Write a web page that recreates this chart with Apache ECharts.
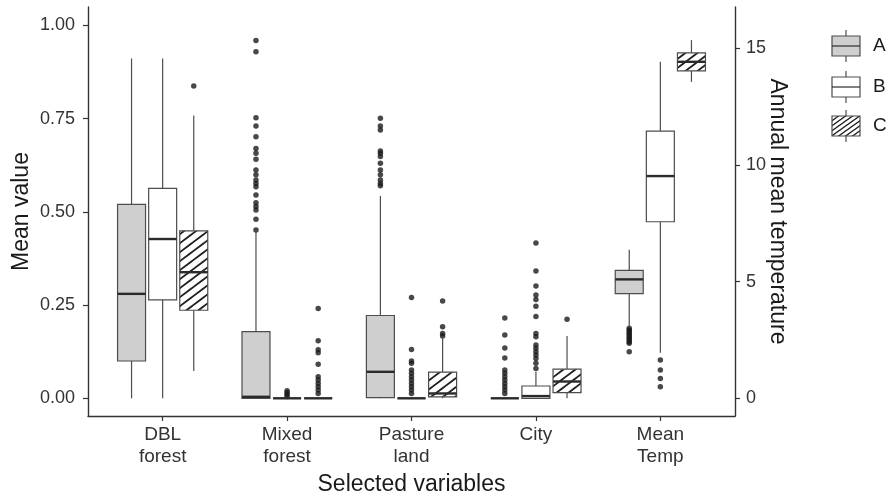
<!DOCTYPE html>
<html><head><meta charset="utf-8">
<script src="https://cdn.jsdelivr.net/npm/echarts@6/dist/echarts.min.js"></script>
<style>html,body{margin:0;padding:0;background:#fff}#c{width:891px;height:496px}</style>
</head><body><div id="c"></div>
<script>
// ---- data ----
const categories = ['DBL\nforest', 'Mixed\nforest', 'Pasture\nland', 'City', 'Mean\nTemp'];
const groups = ['A', 'B', 'C'];
const leftTicks = [0, 0.25, 0.5, 0.75, 1];
const rightTicks = [0, 5, 10, 15];
// [low whisker, q1, median, q3, high whisker] for DBL forest, Mixed forest, Pasture land, City (left axis)
const statsA = [[0, 0.100, 0.280, 0.520, 0.911], [0, 0, 0.004, 0.179, 0.447], [0, 0.002, 0.071, 0.222, 0.542], [0, 0, 0, 0, 0]];
const statsB = [[0, 0.264, 0.427, 0.563, 0.911], [0, 0, 0, 0, 0], [0, 0, 0, 0, 0], [0, 0, 0.006, 0.033, 0.071]];
const statsC = [[0.073, 0.236, 0.338, 0.449, 0.758], [0, 0, 0, 0, 0], [0, 0.004, 0.013, 0.070, 0.161], [0, 0.015, 0.045, 0.078, 0.167]];
// Mean Temp (right axis)
const tempA = [3.05, 4.49, 5.10, 5.49, 6.37];
const tempB = [1.95, 7.57, 9.53, 11.46, 14.43];
const tempC = [13.57, 14.04, 14.43, 14.81, 15.36];
// outliers per category (left axis)
const outA = [[], [0.959, 0.929, 0.752, 0.730, 0.701, 0.670, 0.657, 0.641, 0.612, 0.599, 0.585, 0.576, 0.567, 0.545, 0.524, 0.514, 0.505, 0.480, 0.451],
  [0.751, 0.730, 0.719, 0.663, 0.657, 0.648, 0.630, 0.612, 0.599, 0.585, 0.576, 0.570],
  [0.215, 0.170, 0.135, 0.108, 0.076, 0.067, 0.058, 0.049, 0.040, 0.031, 0.022, 0.013]];
const outB = [[], [0.020, 0.015, 0.010, 0.005],
  [0.270, 0.131, 0.100, 0.094, 0.076, 0.067, 0.058, 0.049, 0.040, 0.031, 0.022, 0.013],
  [0.416, 0.341, 0.301, 0.277, 0.265, 0.247, 0.219, 0.174, 0.165, 0.143, 0.134, 0.125, 0.116, 0.107, 0.094, 0.080]];
const outC = [[0.837], [0.241, 0.154, 0.130, 0.122, 0.091, 0.058, 0.049, 0.040, 0.031, 0.022, 0.013],
  [0.261, 0.192, 0.174, 0.167], [0.212]];
// Mean Temp outliers (right axis)
const tempOutA = [3.0, 2.93, 2.86, 2.79, 2.72, 2.64, 2.57, 2.50, 2.43, 2.36, 2.0];
const tempOutB = [1.64, 1.21, 0.85, 0.50];
const tempOutC = [];

// ---- styling helpers ----
function hatch(w, h, lw) {
  const c = document.createElement('canvas');
  c.width = w; c.height = h;
  const g = c.getContext('2d');
  g.fillStyle = '#fff'; g.fillRect(0, 0, w, h);
  g.strokeStyle = '#1e1e1e'; g.lineWidth = lw;
  g.beginPath();
  g.moveTo(-w, 2 * h); g.lineTo(2 * w, -h);
  g.moveTo(-w, h); g.lineTo(w, -h);
  g.moveTo(0, 2 * h); g.lineTo(2 * w, 0);
  g.stroke();
  return c;
}
const fills = ['#cfcfcf', '#ffffff', { image: hatch(12, 9, 1.8), repeat: 'repeat' }];
const legendFills = ['#cfcfcf', '#ffffff', { image: hatch(7, 5, 1.4), repeat: 'repeat' }];
const offsets = [-0.25, 0, 0.25];
const boxW = 0.225;
const lineCol = '#4d4d4d';

function renderBox(fill) {
  return function (params, api) {
    const x = api.value(0);
    const low = api.coord([x, api.value(1)]);
    const q1 = api.coord([x, api.value(2)]);
    const med = api.coord([x, api.value(3)]);
    const q3 = api.coord([x, api.value(4)]);
    const high = api.coord([x, api.value(5)]);
    const w = api.size([boxW, 0])[0];
    const cx = low[0], L = cx - w / 2;
    return {
      type: 'group', children: [
        { type: 'line', shape: { x1: cx, y1: high[1], x2: cx, y2: q3[1] }, style: { stroke: lineCol, lineWidth: 1.2 } },
        { type: 'line', shape: { x1: cx, y1: q1[1], x2: cx, y2: low[1] }, style: { stroke: lineCol, lineWidth: 1.2 } },
        { type: 'rect', shape: { x: L, y: q3[1], width: w, height: q1[1] - q3[1] }, style: { fill: fill, stroke: lineCol, lineWidth: 1.2 } },
        { type: 'line', shape: { x1: L, y1: med[1], x2: L + w, y2: med[1] }, style: { stroke: '#2b2b2b', lineWidth: 2.4 } }
      ]
    };
  };
}

const statsAll = [statsA, statsB, statsC];
const tempAll = [tempA, tempB, tempC];
const outAll = [outA, outB, outC];
const tempOutAll = [tempOutA, tempOutB, tempOutC];

const series = [];
groups.forEach((g, gi) => {
  const off = offsets[gi];
  const outPts = [];
  outAll[gi].forEach((arr, ci) => arr.forEach(v => outPts.push([ci + 1 + off, v])));
  series.push({ type: 'scatter', name: g + ' out', yAxisIndex: 0, symbolSize: 5.5, itemStyle: { color: '#1a1a1a' }, data: outPts, z: 2 });
  series.push({ type: 'scatter', name: g + ' tout', yAxisIndex: 1, symbolSize: 5.5, itemStyle: { color: '#1a1a1a' },
    data: tempOutAll[gi].map(v => [5 + off, v]), z: 2 });
  series.push({ type: 'custom', name: g, yAxisIndex: 0, renderItem: renderBox(fills[gi]),
    encode: { x: 0, y: [1, 2, 3, 4, 5] },
    data: statsAll[gi].map((s, ci) => [ci + 1 + off].concat(s)), z: 3 });
  series.push({ type: 'custom', name: g + ' temp', yAxisIndex: 1, renderItem: renderBox(fills[gi]),
    encode: { x: 0, y: [1, 2, 3, 4, 5] },
    data: [[5 + off].concat(tempAll[gi])], z: 3 });
});

// legend keys
const graphic = [];
const legY = [46, 87, 126];
groups.forEach((g, gi) => {
  const cy = legY[gi];
  graphic.push({ type: 'line', shape: { x1: 846, y1: cy - 16, x2: 846, y2: cy + 16 }, style: { stroke: lineCol, lineWidth: 1.2 } });
  graphic.push({ type: 'rect', shape: { x: 832, y: cy - 10, width: 28, height: 20 }, style: { fill: legendFills[gi], stroke: lineCol, lineWidth: 1.2 } });
  if (gi < 2) graphic.push({ type: 'line', shape: { x1: 832, y1: cy, x2: 860, y2: cy }, style: { stroke: '#2b2b2b', lineWidth: 1.2 } });
  graphic.push({ type: 'text', x: 873, y: cy, style: { text: g, fontSize: 19, fill: '#1a1a1a', fontFamily: 'Liberation Sans, Arial, sans-serif', verticalAlign: 'middle' } });
});

const font = 'Liberation Sans, Arial, sans-serif';
const option = {
  animation: false,
  textStyle: { fontFamily: font },
  grid: { left: 88, right: 156, top: 7, bottom: 80, containLabel: false, outerBoundsMode: 'none' },
  xAxis: {
    type: 'value', min: 0.4, max: 5.6,
    axisLine: { show: true, onZero: false, lineStyle: { color: '#333', width: 1.4 } },
    axisTick: { show: true, customValues: [1, 2, 3, 4, 5], length: 5, lineStyle: { color: '#333', width: 1.2 } },
    axisLabel: { customValues: [1, 2, 3, 4, 5], formatter: v => categories[Math.round(v) - 1], fontSize: 19, lineHeight: 22, color: '#333', margin: 8 },
    splitLine: { show: false },
    name: 'Selected variables', nameLocation: 'middle', nameGap: 57, nameMoveOverlap: false,
    nameTextStyle: { fontSize: 23, color: '#1a1a1a' }
  },
  yAxis: [{
    type: 'value', min: -0.04745, max: 1.049, position: 'left',
    axisLine: { show: true, onZero: false, lineStyle: { color: '#333', width: 1.4 } },
    axisTick: { show: true, customValues: leftTicks, length: 5, lineStyle: { color: '#333', width: 1.2 } },
    axisLabel: { customValues: leftTicks, formatter: v => v.toFixed(2), fontSize: 18, color: '#333', margin: 13 },
    splitLine: { show: false },
    name: 'Mean value', nameLocation: 'middle', nameGap: 55, nameRotate: 90, nameMoveOverlap: false,
    nameTextStyle: { fontSize: 23, color: '#1a1a1a' }
  }, {
    type: 'value', min: -0.759, max: 16.78, position: 'right',
    axisLine: { show: true, onZero: false, lineStyle: { color: '#333', width: 1.4 } },
    axisTick: { show: true, customValues: rightTicks, length: 5, lineStyle: { color: '#333', width: 1.2 } },
    axisLabel: { customValues: rightTicks, formatter: v => String(v), fontSize: 18, color: '#333', margin: 11 },
    splitLine: { show: false },
    name: 'Annual mean temperature', nameLocation: 'middle', nameGap: 31, nameRotate: -90, nameMoveOverlap: false,
    nameTextStyle: { fontSize: 23, color: '#1a1a1a' }
  }],
  graphic: graphic,
  series: series
};
const chart = echarts.init(document.getElementById('c'), null, { renderer: 'canvas' });
chart.setOption(option);
</script></body></html>
